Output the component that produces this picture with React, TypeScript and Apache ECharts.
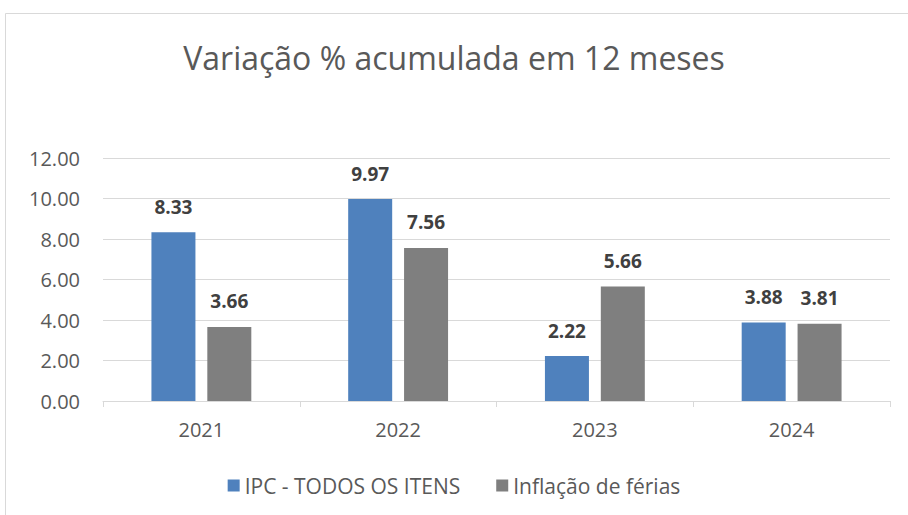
import React, { useEffect, useRef } from "react";
import * as echarts from "echarts";

const categories = ["2021", "2022", "2023", "2024"];
const ipcValues = [8.33, 9.97, 2.22, 3.88];
const feriasValues = [3.66, 7.56, 5.66, 3.81];
const seriesNames = ["IPC - TODOS OS ITENS", "Inflação de férias"];
const titleText = "Variação % acumulada em 12 meses";

const FONT = "'Open Sans', 'Noto Sans', sans-serif";

export default function App() {
  const ref = useRef<HTMLDivElement>(null);
  useEffect(() => {
    const chart = echarts.init(ref.current!, null, { renderer: "svg" });
    const labelStyle = {
      show: true,
      position: "top" as const,
      distance: 16,
      fontFamily: FONT,
      fontSize: 19,
      fontWeight: "bold" as const,
      color: "#404040",
      formatter: (p: any) => Number(p.value).toFixed(2),
    };
    chart.setOption({
      animation: false,
      backgroundColor: "#ffffff",
      title: {
        text: titleText,
        left: "center",
        top: 36,
        textStyle: { fontFamily: FONT, fontSize: 32, fontWeight: "normal", color: "#595959" },
      },
      graphic: [
        {
          type: "rect",
          shape: { x: 5.5, y: 13.5, width: 1000, height: 600 },
          style: { fill: "none", stroke: "#d9d9d9", lineWidth: 1 },
          silent: true,
        },
      ],
      legend: {
        bottom: 14,
        left: "center",
        itemWidth: 12,
        itemHeight: 12,
        itemGap: 36,
        icon: "rect",
        textStyle: { fontFamily: FONT, fontSize: 21, color: "#595959" },
        data: seriesNames,
      },
      grid: { left: 103, right: 18, top: 158, bottom: 114 },
      xAxis: {
        type: "category",
        data: categories,
        axisLine: { lineStyle: { color: "#d9d9d9" } },
        axisTick: { show: true, length: 6, lineStyle: { color: "#d9d9d9" } },
        axisLabel: { fontFamily: FONT, fontSize: 20, color: "#595959", margin: 18 },
      },
      yAxis: {
        type: "value",
        min: 0,
        max: 12,
        interval: 2,
        axisLine: { show: false },
        axisTick: { show: false },
        splitLine: { lineStyle: { color: "#d9d9d9" } },
        axisLabel: {
          fontFamily: FONT,
          fontSize: 20,
          color: "#595959",
          margin: 23,
          formatter: (v: number) => v.toFixed(2),
        },
      },
      series: [
        {
          name: seriesNames[0],
          type: "bar",
          data: ipcValues,
          barWidth: 44,
          barGap: "27%",
          itemStyle: { color: "#4f81bd" },
          label: labelStyle,
        },
        {
          name: seriesNames[1],
          type: "bar",
          data: feriasValues,
          barWidth: 44,
          itemStyle: { color: "#7f7f7f" },
          label: labelStyle,
        },
      ],
    });
    return () => chart.dispose();
  }, []);
  return <div ref={ref} style={{ width: 908, height: 515, position: "fixed", left: 0, top: 0 }} />;
}
